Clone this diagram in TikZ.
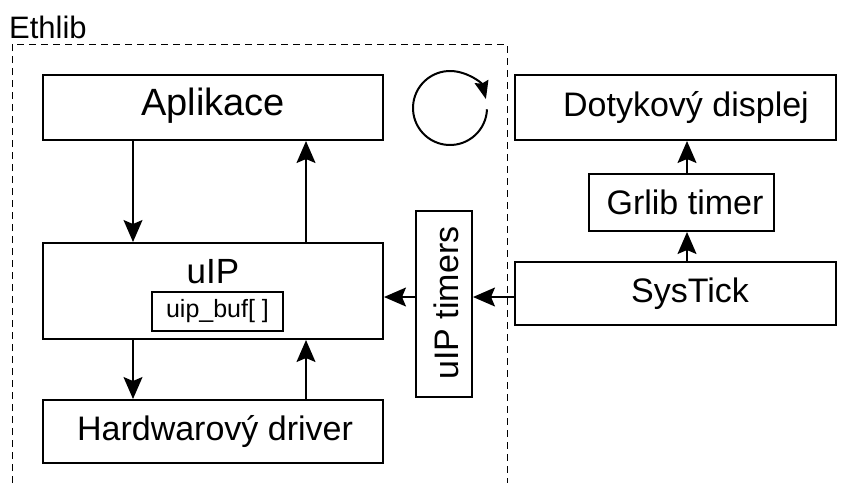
\documentclass[tikz,border=0pt]{standalone}
\usepackage{fontspec}
\setmainfont{Liberation Sans}
\usetikzlibrary{arrows.meta,calc}

\tikzset{
  block/.style={draw=black, line width=2pt, rectangle, inner sep=0pt},
  lbl/.style={inner sep=0pt, font=\fontsize{34}{40}\selectfont},
  smallblock/.style={draw=black, line width=1.3pt, rectangle, inner sep=0pt,
                font=\fontsize{25}{30}\selectfont},
  flow/.style={line width=1.5pt, -{Stealth[length=22pt,width=19pt,inset=4pt]}},
  boundary/.style={dash pattern=on 7pt off 5pt, line width=1pt},
}

\begin{document}
\begin{tikzpicture}[x=1pt,y=-1pt]
  \useasboundingbox (0,0) rectangle (846,483);

  % library boundary (open at the bottom)
  \coordinate (bl) at (12,483);
  \coordinate (tl) at (12,44);
  \coordinate (tr) at (507,44);
  \coordinate (br) at (507,483);
  \draw[boundary] (bl) -- (tl) -- (tr) -- (br);
  \node[anchor=base west, inner sep=0pt, font=\fontsize{31}{36}\selectfont] (ethlib) at (9,38) {Ethlib};

  % left column
  \node[block, minimum width=340pt, minimum height=65pt] (apl) at (213,107.5) {};
  \node[lbl, font=\fontsize{38}{44}\selectfont] (apltext) at (213,106) {Aplikace};
  \node[block, minimum width=340pt, minimum height=96pt] (uip) at (213,291) {};
  \node[lbl, font=\fontsize{35}{40}\selectfont] (uiptext) at (213,272) {uIP};
  \node[smallblock, minimum width=131pt, minimum height=39pt] (buf) at (217.5,311.5) {uip\_buf[ ]};
  \node[block, minimum width=340pt, minimum height=63pt] (hw) at (213,431.5) {};
  \node[lbl] (hwtext) at (215,431.5) {Hardwarový driver};

  % timers
  \node[block, minimum width=56pt, minimum height=186pt] (tim) at (444,304) {};
  \node[lbl, rotate=90] (timtext) at (446,303) {uIP timers};

  % right column
  \node[block, minimum width=321pt, minimum height=65pt] (dot) at (675.5,107.5) {};
  \node[lbl] (dottext) at (686,107.5) {Dotykový displej};
  \node[block, minimum width=185pt, minimum height=57pt] (grl) at (681.5,202.5) {};
  \node[lbl] (grltext) at (685,202.5) {Grlib timer};
  \node[block, minimum width=321pt, minimum height=63pt] (sys) at (675.5,293.5) {};
  \node[lbl] (systext) at (690,293.5) {SysTick};

  % main loop symbol
  \coordinate (loop) at (450,108);
  \draw[line width=2pt, -{Stealth[length=18pt,width=14pt,inset=2pt]}]
    ($(loop)+(-2:37pt)$) arc[start angle=-2, end angle=-346, radius=37pt];

  % connections in the library
  \draw[flow] ([xshift=-80pt]apl.south) -- ([xshift=-80pt]uip.north);
  \draw[flow] ([xshift=93pt]uip.north) -- ([xshift=93pt]apl.south);
  \draw[flow] ([xshift=-80pt]uip.south) -- ([xshift=-80pt]hw.north);
  \draw[flow] ([xshift=93pt]hw.north) -- ([xshift=93pt]uip.south);

  % timer chain
  \draw[flow] (sys.west |- 0,297) -- (tim.east |- 0,297);
  \draw[flow] (tim.west |- 0,297) -- (uip.east |- 0,297);
  \draw[flow] ([xshift=5.5pt]grl.south |- sys.north) -- ([xshift=5.5pt]grl.south);
  \draw[flow] ([xshift=5.5pt]grl.north) -- ([xshift=5.5pt]grl.north |- dot.south);
\end{tikzpicture}
\end{document}
